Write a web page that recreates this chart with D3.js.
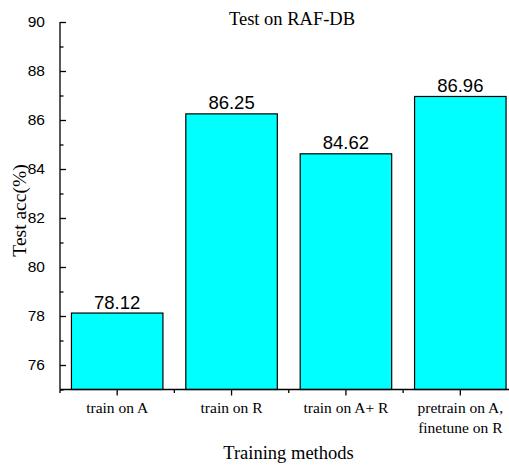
<!DOCTYPE html>
<html>
<head>
<meta charset="utf-8">
<script src="https://cdn.jsdelivr.net/npm/d3@7"></script>
<style>
  html, body { margin: 0; padding: 0; background: #fff; }
  svg { display: block; }
</style>
</head>
<body>
<svg id="chart" width="509" height="466"></svg>
<script>
const categories = ["train on A", "train on R", "train on A+ R", "pretrain on A,\nfinetune on R"];
const values = [78.12, 86.25, 84.62, 86.96];
const valueLabels = ["78.12", "86.25", "84.62", "86.96"];
const yTicks = [76, 78, 80, 82, 84, 86, 88, 90];
const yMinorTicks = [75, 77, 79, 81, 83, 85, 87, 89];
const title = "Test on RAF-DB";
const xTitle = "Training methods";
const yTitle = "Test acc(%)";

(function() {
const svg = d3.select("#chart");
const mLeft = 60, mRight = 517.5, mTop = 22, mBottom = 389.5;
const serif = "'Liberation Serif', 'Times New Roman', serif";
const sans = "'Liberation Sans', Arial, sans-serif";

const x = d3.scaleBand().domain(categories).range([mLeft, mRight]).paddingInner(0.2).paddingOuter(0.1);
const y = d3.scaleLinear().domain([75, 90]).range([mBottom, mTop]);

// bars
svg.append("g").selectAll("rect").data(values).join("rect")
  .attr("x", (d, i) => x(categories[i]))
  .attr("y", d => y(d))
  .attr("width", x.bandwidth())
  .attr("height", d => y(75) - y(d))
  .attr("fill", "#00ffff")
  .attr("stroke", "#000")
  .attr("stroke-width", 1.2);

// value labels
svg.append("g").selectAll("text").data(values).join("text")
  .attr("x", (d, i) => x(categories[i]) + x.bandwidth() / 2)
  .attr("y", d => y(d) - 4.5)
  .attr("text-anchor", "middle")
  .attr("font-family", sans)
  .attr("font-size", 18.5)
  .attr("fill", "#000")
  .text((d, i) => valueLabels[i]);

// y axis (ticks inward)
const yAxis = svg.append("g").attr("transform", `translate(${mLeft},0)`)
  .call(d3.axisLeft(y).tickValues(yTicks).tickSize(-6).tickPadding(15).tickFormat(d3.format("d")));
yAxis.select(".domain").attr("stroke-width", 1.3).attr("d", `M0,${mBottom}V${mTop}`);
yAxis.selectAll(".tick line").attr("stroke-width", 1.3);
yAxis.selectAll(".tick text").attr("font-family", sans).attr("font-size", 15.5).attr("fill", "#000");
svg.append("g").attr("transform", `translate(${mLeft},0)`)
  .call(d3.axisLeft(y).tickValues(yMinorTicks).tickSize(-3.5).tickFormat(""))
  .call(g => g.select(".domain").remove())
  .selectAll(".tick line").attr("stroke-width", 1.3);

// x axis (ticks outward)
const xAxis = svg.append("g").attr("transform", `translate(0,${mBottom})`)
  .call(d3.axisBottom(x).tickSize(6).tickPadding(6));
xAxis.select(".domain").attr("stroke-width", 1.3).attr("d", `M${mLeft},0H${mRight}`);
xAxis.selectAll(".tick line").attr("stroke-width", 1.3);
xAxis.selectAll(".tick text").attr("font-family", serif).attr("font-size", 15.5).attr("fill", "#000")
  .each(function(d) {
    const t = d3.select(this);
    const lines = d.split("\n");
    t.text(null);
    lines.forEach((ln, i) => t.append("tspan").attr("x", 0).attr("dy", i === 0 ? "0.71em" : "1.3em").text(ln));
  });
// minor x ticks at band boundaries
const step = x.step();
const minorX = categories.map(c => x(c) - (step - x.bandwidth()) / 2);
svg.append("g").selectAll("line").data(minorX).join("line")
  .attr("x1", d => d).attr("x2", d => d)
  .attr("y1", mBottom).attr("y2", mBottom + 3.5)
  .attr("stroke", "#000").attr("stroke-width", 1.3);

// titles
svg.append("text").attr("x", 292).attr("y", 25).attr("text-anchor", "middle")
  .attr("font-family", serif).attr("font-size", 18.5).attr("fill", "#000").text(title);
svg.append("text").attr("x", 288.5).attr("y", 459).attr("text-anchor", "middle")
  .attr("font-family", serif).attr("font-size", 18.5).attr("fill", "#000").text(xTitle);
svg.append("text").attr("transform", `translate(26,210.5) rotate(-90)`).attr("text-anchor", "middle")
  .attr("font-family", serif).attr("font-size", 19.5).attr("fill", "#000").text(yTitle);
})();
</script>
</body>
</html>
